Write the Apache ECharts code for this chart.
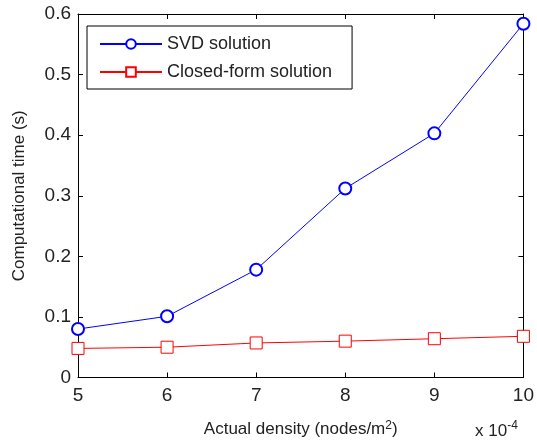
<!DOCTYPE html>
<html><head><meta charset="utf-8">
<script src="https://cdn.jsdelivr.net/npm/echarts@6/dist/echarts.min.js"></script>
<style>html,body{margin:0;padding:0;background:#fff}#c{width:537px;height:443px}</style>
</head><body><div id="c"></div>
<script>
const densities = [5, 6, 7, 8, 9, 10];
const svdTimes = [0.080, 0.101, 0.178, 0.312, 0.403, 0.584];
const closedTimes = [0.048, 0.050, 0.057, 0.060, 0.064, 0.068];
const seriesNames = ['SVD solution', 'Closed-form solution'];

const chart = echarts.init(document.getElementById('c'));
const font = 'Liberation Sans, Arial, sans-serif';
const txt = '#222';
const axisCommon = {
  axisLine: {show: true, onZero: false, lineStyle: {color: '#000', width: 1}},
  axisTick: {show: true, inside: true, length: 5, lineStyle: {color: '#000'}},
  splitLine: {show: false}
};
chart.setOption({
  animation: false,
  grid: {left: 78, right: 12, top: 14, bottom: 64},
  legend: {
    left: 87, top: 26, orient: 'vertical',
    data: seriesNames,
    itemWidth: 62, itemHeight: 12, itemGap: 10,
    padding: [9, 20, 8, 12],
    borderColor: '#000', borderWidth: 1, backgroundColor: '#fff',
    textStyle: {fontFamily: font, fontSize: 18, color: txt}
  },
  xAxis: [
    Object.assign({type: 'value', min: 5, max: 10, interval: 1, position: 'bottom',
      axisLabel: {color: txt, fontFamily: font, fontSize: 19, margin: 9},
      name: 'Actual density (nodes/m{sup|2})', nameLocation: 'middle', nameGap: 42,
      nameTextStyle: {color: txt, fontFamily: font, fontSize: 17,
        rich: {sup: {fontSize: 12, verticalAlign: 'top', padding: [0,0,8,0], fontFamily: font, color: txt}}}
    }, axisCommon),
    Object.assign({type: 'value', min: 5, max: 10, interval: 1, position: 'top',
      axisLabel: {show: false}}, axisCommon)
  ],
  yAxis: [
    Object.assign({type: 'value', min: 0, max: 0.6, interval: 0.1, position: 'left',
      axisLabel: {color: txt, fontFamily: font, fontSize: 19, margin: 7},
      name: 'Computational time (s)', nameLocation: 'middle', nameGap: 50,
      nameTextStyle: {color: txt, fontFamily: font, fontSize: 17}
    }, axisCommon),
    Object.assign({type: 'value', min: 0, max: 0.6, interval: 0.1, position: 'right',
      axisLabel: {show: false}}, axisCommon)
  ],
  graphic: [{
    type: 'text', left: 475, top: 420,
    style: {text: 'x 10{sup|-4}', fontFamily: font, fontSize: 17, fill: txt,
      rich: {sup: {fontSize: 12, padding: [0,0,10,0], fontFamily: font, fill: txt}}}
  }],
  series: [
    {name: seriesNames[0], type: 'line', data: densities.map((d, i) => [d, svdTimes[i]]),
      symbol: 'emptyCircle', symbolSize: 12, color: '#0000ff',
      lineStyle: {color: '#0000ff', width: 1}, itemStyle: {color: '#0000ff', borderWidth: 1}},
    {name: seriesNames[1], type: 'line', data: densities.map((d, i) => [d, closedTimes[i]]),
      symbol: 'rect', symbolSize: 12, color: '#ff0000',
      lineStyle: {color: '#ff0000', width: 1},
      itemStyle: {color: '#fff', borderColor: '#ff0000', borderWidth: 1}}
  ]
});
</script></body></html>
